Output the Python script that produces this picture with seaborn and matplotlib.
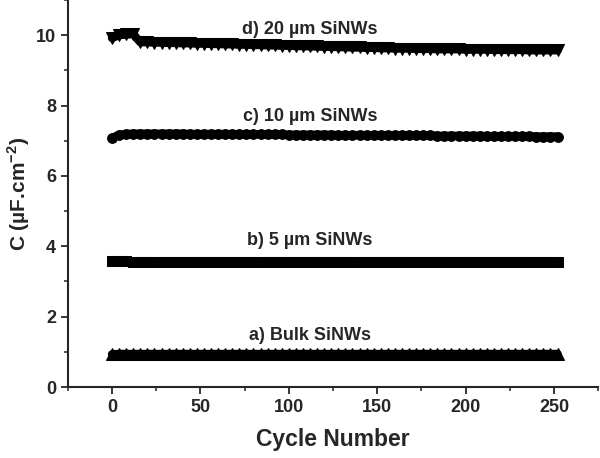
import numpy as np
import pandas as pd
import matplotlib
matplotlib.use("Agg")
import matplotlib.pyplot as plt
import seaborn as sns
from matplotlib.ticker import MultipleLocator

# cycle numbers where the markers were read (every 4th cycle)
cycles = list(range(0, 253, 4))

cap_20um = [9.92, 10.00, 10.02, 10.03, 9.80, 9.80, 9.79, 9.79,
            9.78, 9.78, 9.77, 9.77, 9.76, 9.76, 9.75, 9.75,
            9.74, 9.74, 9.73, 9.73, 9.72, 9.72, 9.71, 9.71,
            9.70, 9.70, 9.69, 9.69, 9.68, 9.68, 9.67, 9.67,
            9.66, 9.66, 9.65, 9.65, 9.64, 9.64, 9.63, 9.63,
            9.62, 9.62, 9.62, 9.61, 9.61, 9.61, 9.60, 9.60,
            9.60, 9.60, 9.59, 9.59, 9.59, 9.59, 9.58, 9.58,
            9.58, 9.58, 9.58, 9.57, 9.57, 9.57, 9.57, 9.57]

cap_10um = [7.08, 7.17, 7.19, 7.20, 7.20, 7.20, 7.20, 7.20,
            7.20, 7.20, 7.20, 7.19, 7.19, 7.19, 7.19, 7.19,
            7.19, 7.19, 7.18, 7.18, 7.18, 7.18, 7.18, 7.18,
            7.18, 7.17, 7.17, 7.17, 7.17, 7.17, 7.17, 7.17,
            7.16, 7.16, 7.16, 7.16, 7.16, 7.16, 7.16, 7.15,
            7.15, 7.15, 7.15, 7.15, 7.15, 7.15, 7.14, 7.14,
            7.14, 7.14, 7.14, 7.14, 7.14, 7.13, 7.13, 7.13,
            7.13, 7.13, 7.13, 7.13, 7.12, 7.12, 7.12, 7.12]

cap_5um = [3.57, 3.57, 3.57, 3.56, 3.56, 3.56, 3.56, 3.56,
           3.56, 3.56, 3.56, 3.56, 3.56, 3.56, 3.56, 3.56,
           3.56, 3.56, 3.56, 3.56, 3.56, 3.56, 3.56, 3.56,
           3.56, 3.56, 3.56, 3.56, 3.56, 3.56, 3.56, 3.56,
           3.55, 3.55, 3.55, 3.55, 3.55, 3.55, 3.55, 3.55,
           3.55, 3.55, 3.55, 3.55, 3.55, 3.55, 3.55, 3.55,
           3.55, 3.55, 3.55, 3.55, 3.55, 3.55, 3.55, 3.55,
           3.55, 3.55, 3.55, 3.55, 3.55, 3.55, 3.55, 3.55]

cap_bulk = [0.93, 0.94, 0.94, 0.94, 0.94, 0.94, 0.94, 0.94,
            0.94, 0.94, 0.94, 0.94, 0.94, 0.94, 0.94, 0.94,
            0.94, 0.94, 0.94, 0.94, 0.94, 0.94, 0.94, 0.94,
            0.94, 0.94, 0.94, 0.94, 0.94, 0.94, 0.94, 0.94,
            0.94, 0.94, 0.94, 0.94, 0.94, 0.94, 0.94, 0.94,
            0.94, 0.94, 0.94, 0.94, 0.94, 0.94, 0.94, 0.94,
            0.94, 0.94, 0.94, 0.94, 0.94, 0.94, 0.94, 0.94,
            0.94, 0.94, 0.94, 0.94, 0.94, 0.94, 0.94, 0.94]

labels = ["a) Bulk SiNWs", "b) 5 \u00b5m SiNWs", "c) 10 \u00b5m SiNWs", "d) 20 \u00b5m SiNWs"]
label_x = [112, 112, 112, 112]
label_y = [1.45, 4.16, 7.69, 10.17]

sns.set_style("ticks")
plt.rcParams['font.family'] = ['Liberation Sans', 'DejaVu Sans']
plt.rcParams['font.weight'] = 'bold'
plt.rcParams['mathtext.fontset'] = 'custom'
plt.rcParams['mathtext.rm'] = 'Liberation Sans:bold'
plt.rcParams['mathtext.bf'] = 'Liberation Sans:bold'

fig = plt.figure(figsize=(6, 4.58), dpi=100)
ax = fig.add_axes([0.113, 0.155, 0.884, 0.845])

series = [(cap_bulk, '^', 8), (cap_5um, 's', 7), (cap_10um, 'o', 7), (cap_20um, 'v', 8)]
for vals, mk, ms in series:
    df = pd.DataFrame({"cycle": cycles, "C": vals})
    sns.lineplot(data=df, x="cycle", y="C", marker=mk, markersize=ms, color="black",
                 markeredgecolor="black", linewidth=6, ax=ax, zorder=3)

for txt, tx, ty in zip(labels, label_x, label_y):
    ax.text(tx, ty, txt, ha="center", va="center", fontsize=13, fontweight="bold")

ax.set_xlim(-25, 275)
ax.set_ylim(0, 11)
ax.xaxis.set_major_locator(MultipleLocator(50))
ax.xaxis.set_minor_locator(MultipleLocator(25))
ax.yaxis.set_major_locator(MultipleLocator(2))
ax.yaxis.set_minor_locator(MultipleLocator(1))
ax.tick_params(which="major", direction="out", length=5, width=1.3, labelsize=13)
ax.tick_params(which="minor", direction="out", length=3, width=1.1)
for lab in ax.get_xticklabels() + ax.get_yticklabels():
    lab.set_fontweight("bold")

ax.set_xlabel("Cycle Number", fontsize=16.5, fontweight="bold", labelpad=9)
ax.set_ylabel("C (\u00b5F.cm$^{-2}$)", fontsize=15, fontweight="bold", labelpad=3)

for side in ["top", "right"]:
    ax.spines[side].set_visible(False)
for side in ["left", "bottom"]:
    ax.spines[side].set_linewidth(1.5)

fig.savefig("out.png", dpi=100)
